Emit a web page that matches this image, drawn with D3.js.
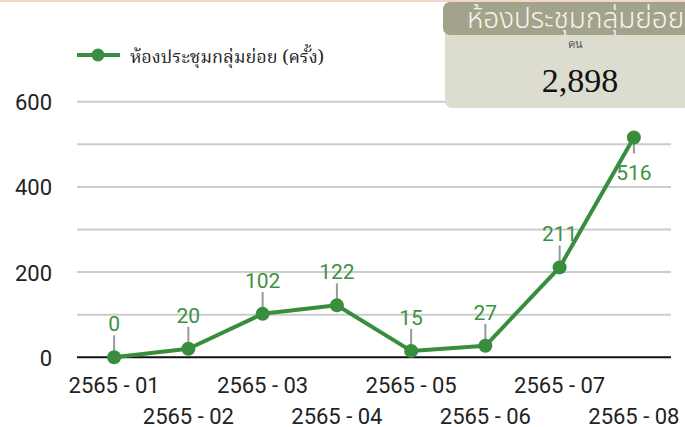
<!DOCTYPE html>
<html>
<head>
<meta charset="utf-8">
<script src="https://cdn.jsdelivr.net/npm/d3@7"></script>
<style>
  body { margin: 0; background: #fff; overflow: hidden; }
</style>
</head>
<body>
<div id="chart"></div>
<script>
var months = ["2565 - 01", "2565 - 02", "2565 - 03", "2565 - 04",
	"2565 - 05", "2565 - 06", "2565 - 07", "2565 - 08"];
var counts = [0, 20, 102, 122, 15, 27, 211, 516];
var yTicks = [0, 200, 400, 600];
var gridTicks = [0, 100, 200, 300, 400, 500, 600];
var seriesName = "ห้องประชุมกลุ่มย่อย (ครั้ง)";
var boxTitle = "ห้องประชุมกลุ่มย่อย";
var boxUnit = "คน";
var boxTotal = "2,898";

var width = 685,
	height = 427,
	green = "#388e3c",
	sans = "Roboto, 'Noto Sans', sans-serif",
	serif = "'Liberation Serif', 'DejaVu Serif', serif";

var svg = d3.select("#chart")
	.append("svg")
	.attr("width", width)
	.attr("height", height);

var x = d3.scaleBand().domain(months).range([77, 671]);
var y = d3.scaleLinear().domain([0, 600]).range([357.3, 101.7]);

// thin peach band on top
svg.append("rect")
	.attr("x", 0).attr("y", 0)
	.attr("width", width).attr("height", 2)
	.attr("fill", "#efd8c5");

// gridlines
svg.append("g")
	.selectAll("line")
	.data(gridTicks.filter(function(d) { return d > 0; }))
	.join("line")
	.attr("x1", 77).attr("x2", 671)
	.attr("y1", function(d) { return y(d); })
	.attr("y2", function(d) { return y(d); })
	.attr("stroke", "#cccccc")
	.attr("stroke-width", 2);

// y labels
var yAxis = d3.axisLeft(y).tickValues(yTicks).tickSize(0).tickPadding(0);
var yg = svg.append("g")
	.attr("transform", "translate(52,0)")
	.call(yAxis);
yg.select(".domain").remove();
yg.selectAll("text")
	.style("font-size", "22px")
	.style("font-family", sans)
	.attr("fill", "#222")
	.attr("dy", "0.36em");

// x axis baseline
svg.append("line")
	.attr("x1", 77).attr("x2", 671)
	.attr("y1", y(0)).attr("y2", y(0))
	.attr("stroke", "#111")
	.attr("stroke-width", 2);

// x labels, staggered on two rows
var xAxis = d3.axisBottom(x).tickSize(0).tickPadding(0);
var xg = svg.append("g")
	.attr("transform", "translate(0," + y(0) + ")")
	.call(xAxis);
xg.select(".domain").remove();
xg.selectAll("text")
	.style("font-size", "22px")
	.style("font-family", sans)
	.attr("fill", "#222")
	.attr("dy", null)
	.attr("y", function(d, i) { return i % 2 === 0 ? 36 : 67; });

// leader lines for value labels
var last = counts.length - 1;
svg.append("g")
	.selectAll("line")
	.data(counts)
	.join("line")
	.attr("x1", function(d, i) { return x(months[i]) + x.bandwidth() / 2; })
	.attr("x2", function(d, i) { return x(months[i]) + x.bandwidth() / 2; })
	.attr("y1", function(d) { return y(d); })
	.attr("y2", function(d, i) { return i === last ? y(d) + 16 : y(d) - 22; })
	.attr("stroke", "#999")
	.attr("stroke-width", 2);

// series line
var line = d3.line()
	.x(function(d, i) { return x(months[i]) + x.bandwidth() / 2; })
	.y(function(d) { return y(d); });

svg.append("path")
	.datum(counts)
	.attr("d", line)
	.attr("fill", "none")
	.attr("stroke", green)
	.attr("stroke-width", 4)
	.attr("stroke-linejoin", "round");

svg.append("g")
	.selectAll("circle")
	.data(counts)
	.join("circle")
	.attr("cx", function(d, i) { return x(months[i]) + x.bandwidth() / 2; })
	.attr("cy", function(d) { return y(d); })
	.attr("r", 7)
	.attr("fill", green);

// value labels
svg.append("g")
	.selectAll("text")
	.data(counts)
	.join("text")
	.attr("x", function(d, i) { return x(months[i]) + x.bandwidth() / 2; })
	.attr("y", function(d, i) { return i === last ? y(d) + 43 : y(d) - 26; })
	.attr("text-anchor", "middle")
	.style("font-size", "21px")
	.style("font-family", sans)
	.attr("fill", "#3d9142")
	.text(function(d) { return d; });

// legend
var legend = svg.append("g");
legend.append("line")
	.attr("x1", 77).attr("x2", 120)
	.attr("y1", 55).attr("y2", 55)
	.attr("stroke", green)
	.attr("stroke-width", 4);
legend.append("circle")
	.attr("cx", 98).attr("cy", 55).attr("r", 6.5)
	.attr("fill", green);
legend.append("text")
	.attr("x", 130).attr("y", 63)
	.style("font-size", "18px")
	.style("font-family", "'Noto Serif Thai', " + serif)
	.attr("fill", "#222")
	.text(seriesName);

// summary box on the right
var box = svg.append("g");
box.append("rect")
	.attr("x", 445).attr("y", 2)
	.attr("width", 290).attr("height", 106)
	.attr("rx", 7)
	.attr("fill", "#dcdccf");
box.append("rect")
	.attr("x", 443).attr("y", 2)
	.attr("width", 290).attr("height", 33)
	.attr("rx", 7)
	.attr("fill", "#a3a38b");
box.append("text")
	.attr("x", 467).attr("y", 28)
	.style("font-size", "28px")
	.style("font-weight", 300)
	.style("font-family", "'Noto Sans Thai', " + sans)
	.attr("fill", "#f4f4ee")
	.text(boxTitle);
box.append("text")
	.attr("x", 575).attr("y", 48)
	.attr("text-anchor", "middle")
	.style("font-size", "11px")
	.style("font-family", serif)
	.attr("fill", "#555")
	.text(boxUnit);
box.append("text")
	.attr("x", 580).attr("y", 92)
	.attr("text-anchor", "middle")
	.style("font-size", "34px")
	.style("font-family", serif)
	.attr("fill", "#111")
	.text(boxTotal);
</script>
</body>
</html>
